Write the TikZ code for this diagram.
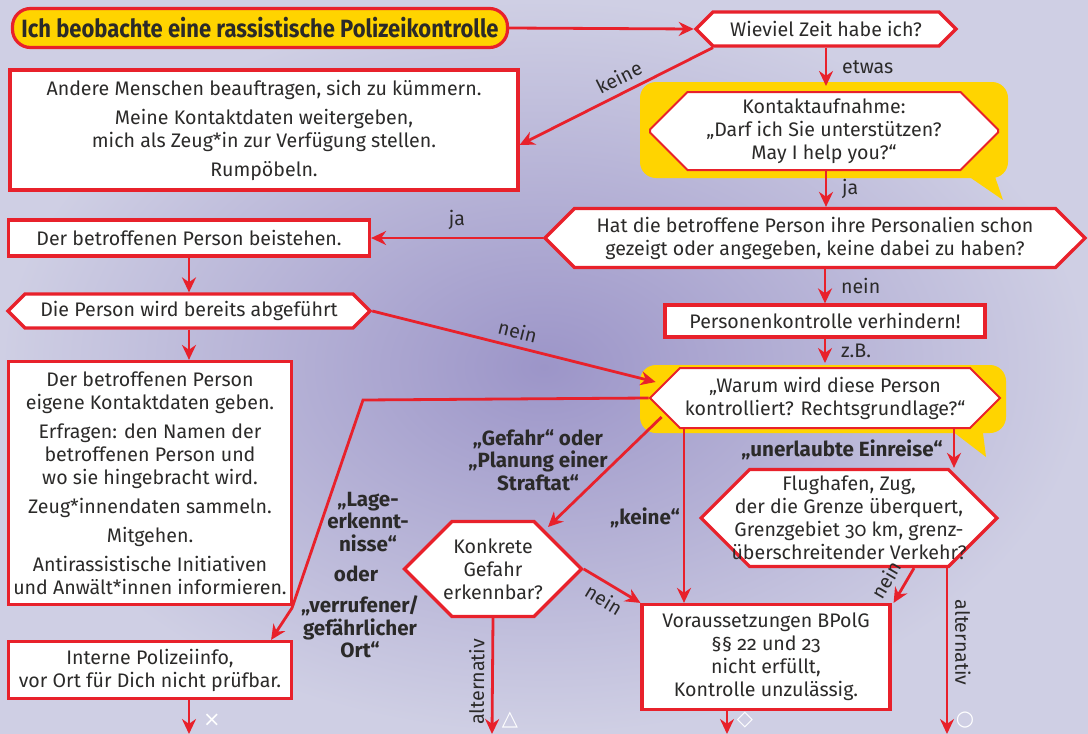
\documentclass[tikz,border=0pt]{standalone}
\usepackage{fontspec}
\setmainfont{Fira Sans}[Numbers=OldStyle]
\newfontfamily\titlefont{Fira Sans}[FakeStretch=0.88]
\newfontfamily\symfont{DejaVu Sans}
\usetikzlibrary{arrows.meta, positioning, calc, shapes.symbols, shapes.misc}
\definecolor{flowred}{HTML}{E8212B}
\definecolor{flowyellow}{HTML}{FFD400}
\definecolor{flowtext}{HTML}{2B2A29}
\definecolor{bgdark}{HTML}{9C95C8}
\definecolor{bglight}{HTML}{CFCFE4}

\begin{document}
\begin{tikzpicture}[
      x=0.5pt, y=-0.5pt,
      every node/.style={text=flowtext, font=\fontsize{9.8}{11.5}\selectfont},
      box/.style={draw=flowred, line width=1.6pt, fill=white, align=center,
                  inner sep=1pt},
      sign/.style={box, signal, signal to=east and west,
                   signal pointer angle=90},
      octbox/.style={box, line width=1pt, chamfered rectangle,
                     chamfered rectangle xsep=13pt, chamfered rectangle ysep=13pt,
                     inner ysep=-10.5pt},
      titlebox/.style={draw=flowred, line width=1.6pt, fill=flowyellow,
                       rounded corners=9pt, font=\titlefont\bfseries\fontsize{12.5}{14}\selectfont},
      arr/.style={draw=flowred, line width=1.4pt, -{Stealth[length=7.5pt,width=7pt]}},
      lbl/.style={font=\fontsize{9.8}{11}\selectfont},
      blab/.style={font=\bfseries\fontsize{10.3}{11.3}\selectfont, align=center},
      sym/.style={text=white, font=\symfont\fontsize{10.5}{11}\selectfont}
    ]
    \shade[inner color=bgdark, outer color=bglight] (0,0) rectangle (1088,734);
    \useasboundingbox (0,0) rectangle (1088,734);

    % yellow speech bubbles
    \fill[flowyellow, rounded corners=8pt] (640,82) rectangle (1008,178);
    \fill[flowyellow] (968,176) -- (1003,200) -- (992,168) -- cycle;
    \fill[flowyellow, rounded corners=8pt] (640,365) rectangle (1006,433);
    \fill[flowyellow] (952,431) -- (986,457) -- (982,425) -- cycle;

    % nodes
    \node[titlebox, minimum width=247.5pt, minimum height=19.5pt] (start) at (260,28)
      {Ich beobachte eine rassistische Polizeikontrolle};
    \node[sign, minimum width=130pt, minimum height=17pt] (zeit) at (826,29)
      {Wieviel Zeit habe ich?};
    \node[box, minimum width=254pt, minimum height=60pt] (andere) at (264,130)
      {Andere Menschen beauftragen, sich zu kümmern.\\[3pt]
       Meine Kontaktdaten weitergeben,\\mich als Zeug*in zur Verfügung stellen.\\[3pt]
       Rumpöbeln.};
    \node[octbox, minimum width=174pt, minimum height=39pt] (kontakt) at (824,131)
      {Kontaktaufnahme:\\„Darf ich Sie unterstützen?\\May I help you?“};
    \node[sign, minimum width=270pt, minimum height=29.5pt] (personalien) at (815,238)
      {Hat die betroffene Person ihre Personalien schon\\gezeigt oder angegeben, keine dabei zu haben?};
    \node[box, minimum width=180.5pt, minimum height=18pt] (beistehen) at (189,238)
      {Der betroffenen Person beistehen.};
    \node[sign, minimum width=181pt, minimum height=17pt] (abgefuehrt) at (189,311)
      {Die Person wird bereits abgeführt};
    \node[box, minimum width=141.5pt, minimum height=121.5pt] (kontaktdaten) at (150,483)
      {Der betroffenen Person\\eigene Kontaktdaten geben.\\[3pt]
       Erfragen: den Namen der\\betroffenen Person und\\wo sie hingebracht wird.\\[3pt]
       Zeug*innendaten sammeln.\\[3pt]
       Mitgehen.\\[3pt]
       Antirassistische Initiativen\\und Anwält*innen informieren.};
    \node[box, minimum width=160pt, minimum height=16pt] (verhindern) at (825,321)
      {Personenkontrolle verhindern!};
    \node[sign, line width=1pt, minimum width=175pt, minimum height=30pt] (warum) at (825,398)
      {„Warum wird diese Person\\kontrolliert? Rechtsgrundlage?“};
    \node[sign, inner xsep=-5.3pt, minimum width=88.5pt, minimum height=47.5pt] (gefahr) at (493,569)
      {Konkrete\\Gefahr\\erkennbar?};
    \node[sign, inner xsep=-9pt, minimum width=147.5pt, minimum height=48.5pt] (grenze) at (849,518)
      {Flughafen, Zug,\\der die Grenze überquert,\\Grenzgebiet 30 km, grenz-\\überschreitender Verkehr?};
    \node[box, minimum width=141.5pt, minimum height=28.5pt] (polizeiinfo) at (150,670)
      {Interne Polizeiinfo,\\vor Ort für Dich nicht prüfbar.};
    \node[box, minimum width=124pt, minimum height=52.5pt] (voraus) at (766,657)
      {Voraussetzungen BPolG\\§§ 22 und 23\\nicht erfüllt,\\Kontrolle unzulässig.};

    % bold reasons
    \node[blab] (lage) at (368,522) {„Lage-\\erkennt-\\nisse“};
    \node[blab] (oder) at (356,574) {oder};
    \node[blab] (ort) at (360,627) {„verrufener/\\gefährlicher\\Ort“};
    \node[blab] (straftat) at (538,460) {„Gefahr“ oder\\„Planung einer\\Straftat“};
    \node[blab] (keinegrund) at (645,518) {„keine“};
    \node[blab] (einreise) at (842,450) {„unerlaubte Einreise“};

    % free ends
    \coordinate (endx) at (189,734);
    \coordinate (endtri) at (492,734);
    \coordinate (enddia) at (727,734);
    \coordinate (endcirc) at (947,734);
    \node[sym] (kreuz) at (212,720) {×};
    \node[sym] (dreieck) at (510,720) {△};
    \node[sym] (raute) at (745,720) {◇};
    \node[sym] (kreis) at (965,720) {○};

    % connectors
    \draw[arr] (start.east) -- (zeit.west);
    \draw[arr] ($(zeit.south)+(-113,0)$) -- node[lbl, sloped, above, pos=0.45] {keine}
      ($(andere.east)+(0,15)$);
    \draw[arr] (zeit.south) -- node[lbl, right=4pt] {etwas} (zeit.south |- 0,86);
    \draw[arr] (kontakt.south -| zeit.south) -- node[lbl, right=4pt] {ja}
      (zeit.south |- personalien.north);
    \draw[arr] (personalien.west) -- node[lbl, above, pos=0.5] {ja} (beistehen.east);
    \draw[arr] (beistehen.south) -- (abgefuehrt.north);
    \draw[arr] (abgefuehrt.south) -- (abgefuehrt.south |- kontaktdaten.north);
    \draw[arr] (abgefuehrt.east) -- node[lbl, sloped, above, pos=0.5] {nein}
      ($(warum.west)+(7,-16)$);
    \draw[arr] (verhindern.north |- personalien.south) -- node[lbl, right=4pt] {nein}
      (verhindern.north);
    \draw[arr] (verhindern.south) -- node[lbl, right=4pt] {z.B.} ($(warum.north)+(0,-4)$);
    \draw[arr] (warum.west) -- (363,400) -- (292,608) -- ($(polizeiinfo.north east)+(-22,0)$);
    \draw[arr] ($(warum.west)+(13,19)$) -- ($(gefahr.center)+(55,-42)$);
    \draw[arr] ($(warum.south)+(-141,0)$) -- ($(voraus.north)+(-82,0)$);
    \draw[arr] ($(warum.south)+(129,0)$) -- ($(grenze.north)+(105,0)$);
    \draw[arr] (gefahr.east) -- node[lbl, sloped, below] {nein} (voraus.north west);
    \draw[arr] (gefahr.south) -- node[lbl, sloped, above, pos=0.55] {alternativ} (endtri);
    \draw[arr] ($(grenze.south)+(65,0)$) -- node[lbl, sloped, above=1pt, pos=0.6] {nein}
      ($(voraus.north east)+(2,0)$);
    \draw[arr] ($(grenze.south)+(98,0)$) -- node[lbl, sloped, above, pos=0.45] {alternativ} (endcirc);
    \draw[arr] ($(voraus.south)+(-39,0)$) -- (enddia);
    \draw[arr] ($(polizeiinfo.south)+(39,0)$) -- (endx);
  \end{tikzpicture}
\end{document}
